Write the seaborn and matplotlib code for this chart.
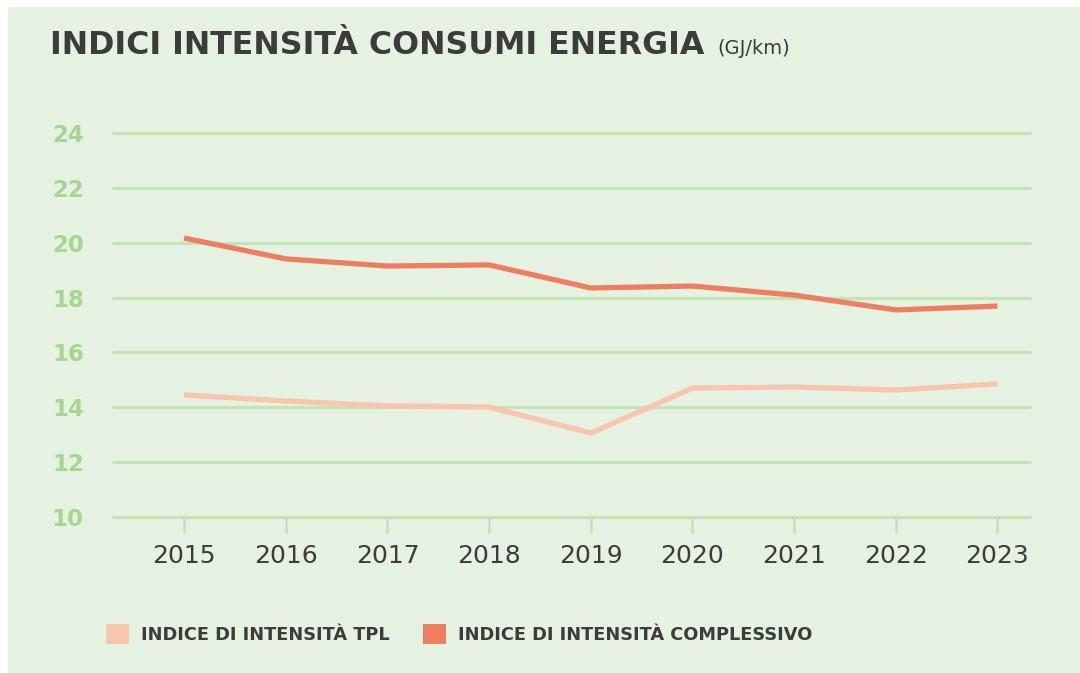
import numpy as np
import pandas as pd
import matplotlib
matplotlib.use('Agg')
import matplotlib.pyplot as plt
from matplotlib.patches import Rectangle, Patch
import seaborn as sns


# Data (GJ/km)
years = [2015, 2016, 2017, 2018, 2019, 2020, 2021, 2022, 2023]
tpl = [14.45, 14.23, 14.05, 14.01, 13.06, 14.70, 14.74, 14.63, 14.85]
complessivo = [20.17, 19.41, 19.15, 19.19, 18.35, 18.42, 18.09, 17.55, 17.69]
series_names = ['INDICE DI INTENSITÀ TPL', 'INDICE DI INTENSITÀ COMPLESSIVO']
y_ticks = [10, 12, 14, 16, 18, 20, 22, 24]

# Colours
bg = '#e5f1e1'
grid_col = '#c4e4b6'
ytick_col = '#a6d78f'
text_col = '#3c3c3a'
line_cols = ['#f8c5ae', '#ef7e61']


def build_frame():
	df = pd.DataFrame({'anno': years, series_names[0]: tpl, series_names[1]: complessivo})
	return df.melt(id_vars='anno', var_name='serie', value_name='valore')


def main():
	sns.set_theme(style='white')
	plt.rcParams['font.family'] = ['DejaVu Sans']

	fig = plt.figure(figsize=(10.8, 6.73), dpi=100)
	fig.patch.set_facecolor('white')
	# green panel behind everything
	fig.patches.append(Rectangle((8 / 1080, 0), 1, 1 - 7 / 673, transform=fig.transFigure,
								 facecolor=bg, edgecolor='none', zorder=-5))

	ax = fig.add_axes([113 / 1080, 1 - 517 / 673, (1030 - 113) / 1080, 384 / 673])
	ax.set_facecolor('none')
	ax.set_zorder(2)

	data = build_frame()
	sns.lineplot(data=data, x='anno', y='valore', hue='serie', hue_order=series_names,
				 palette=line_cols, linewidth=3.8, legend=False, ax=ax, zorder=3)
	for ln in ax.lines:
		ln.set_solid_capstyle('butt')
		ln.set_clip_on(False)

	ax.set_xlim(2014.30, 2023.32)
	ax.set_ylim(10, 24)
	ax.set_xticks(years)
	ax.set_xticklabels([str(y) for y in years])
	ax.set_yticks(y_ticks)
	ax.set_yticklabels([str(v) for v in y_ticks])

	for v in y_ticks:
		ax.axhline(v, color=grid_col, linewidth=2.2, zorder=1, clip_on=False)

	for s in ax.spines.values():
		s.set_visible(False)

	ax.tick_params(axis='x', length=11.5, width=1.8, color=grid_col, pad=8,
				   labelsize=18, labelcolor=text_col, bottom=True)
	ax.tick_params(axis='y', length=0, pad=21, labelsize=16.5, labelcolor=ytick_col, left=True)
	for lab in ax.get_yticklabels():
		lab.set_fontweight('bold')
	ax.set_xlabel('')
	ax.set_ylabel('')

	# Title
	fig.text(50 / 1080, 1 - 54 / 673, 'INDICI INTENSITÀ CONSUMI ENERGIA', fontsize=22.8,
			 fontweight='bold', color=text_col, ha='left', va='baseline')
	fig.text(717 / 1080, 1 - 54 / 673, '(GJ/km)', fontsize=14, color=text_col,
			 ha='left', va='baseline')

	# Legend
	handles = [Patch(facecolor=c, edgecolor='none') for c in line_cols]
	leg = fig.legend(handles, series_names, loc='center left', ncol=2,
					 bbox_to_anchor=(90 / 1080, 1 - 634 / 673), frameon=False,
					 handlelength=1.3, handleheight=1.3, handletextpad=0.65, columnspacing=1.9,
					 prop={'weight': 'bold', 'size': 12.8})
	for t in leg.get_texts():
		t.set_color(text_col)

	fig.savefig('out.png', dpi=100, facecolor='white')


if __name__ == "__main__":
	main()
